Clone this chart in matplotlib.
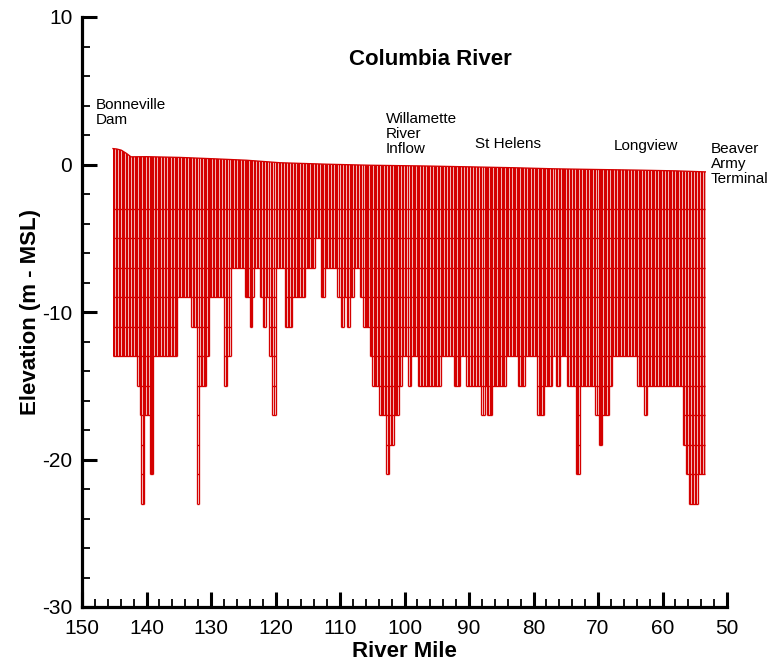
import numpy as np
import matplotlib
matplotlib.use("Agg")
import matplotlib.pyplot as plt
from matplotlib.collections import LineCollection
from matplotlib.patches import Polygon
from matplotlib.ticker import MultipleLocator

plt.rcParams['font.family'] = ['Liberation Sans', 'DejaVu Sans']
plt.rcParams['axes.unicode_minus'] = False

# ---------------- data ----------------
# River-mile boundaries of reaches with a constant channel bottom (m - MSL)
seg_edges = [145.2, 141.4, 141.05, 140.8, 140.4, 139.5, 138.95, 135.2, 133.05, 132.1,
             131.8, 130.7, 130.35, 128.0, 127.5, 126.95, 124.8, 124.0, 123.65, 123.4,
             122.45, 122.0, 121.5, 121.0, 120.5, 119.97, 118.57, 117.4, 115.4, 113.9,
             113.0, 112.4, 110.4, 109.9, 109.4, 108.9, 108.5, 107.9, 106.95, 106.4,
             105.4, 105.0, 103.95, 102.8, 102.4, 101.7, 100.9, 100.4, 99.46, 98.95,
             97.9, 94.4, 92.4, 91.35, 90.4, 88.1, 87.57, 87.2, 86.4, 84.3,
             82.4, 81.36, 79.4, 78.37, 77.1, 76.56, 75.84, 74.85, 73.46, 72.84,
             70.42, 69.89, 69.33, 68.29, 67.83, 63.9, 62.9, 62.36, 56.87, 56.4,
             55.9, 54.5, 53.36]
seg_bottom = [-13, -15, -17, -23, -17, -21, -13, -9, -11, -23,
              -15, -13, -9, -15, -13, -7, -9, -11, -9, -7,
              -9, -11, -9, -13, -17, -7, -11, -9, -7, -5,
              -9, -7, -9, -11, -9, -11, -9, -7, -9, -11,
              -13, -15, -17, -21, -19, -17, -15, -13, -15, -13,
              -15, -13, -15, -13, -15, -17, -15, -17, -15, -13,
              -15, -13, -17, -15, -13, -15, -13, -15, -21, -15,
              -17, -19, -17, -15, -13, -15, -17, -15, -19, -21,
              -23, -21]
# model layer interfaces (m - MSL)
layer_levels = [-3, -5, -7, -9, -11, -13, -15, -17, -19, -21, -23]
# water surface profile
surf_rm = [145.2, 144.6, 143.9, 143.1, 142.4, 140.0, 134.8, 129.7, 124.5, 119.3,
           112.0, 105.3, 97.0, 89.8, 83.0, 77.0, 70.0, 64.0, 58.0, 53.36]
surf_el = [1.08, 1.05, 0.97, 0.75, 0.52, 0.53, 0.48, 0.39, 0.29, 0.12,
           0.02, -0.05, -0.10, -0.16, -0.22, -0.29, -0.34, -0.38, -0.43, -0.50]

# place labels
place_names = ["Bonneville\nDam", "Willamette\nRiver\nInflow", "St Helens",
               "Longview", "Beaver\nArmy\nTerminal"]
place_rm = [147.9, 102.9, 89.1, 67.5, 52.55]
place_el = [4.5, 3.55, 1.85, 1.7, 1.5]

title = "Columbia River"
x_ticks = [150, 140, 130, 120, 110, 100, 90, 80, 70, 60, 50]
y_ticks = [-30, -20, -10, 0, 10]

# ---------------- grid construction ----------------
cell_target = 0.22   # nominal cell length (river miles)
col_l, col_r, col_b = [], [], []
for i, bot in enumerate(seg_bottom):
    a, b = seg_edges[i], seg_edges[i + 1]
    n = max(1, int(round((a - b) / cell_target)))
    e = np.linspace(a, b, n + 1)
    for k in range(n):
        col_l.append(e[k]); col_r.append(e[k + 1]); col_b.append(bot)

red = "#d40000"
lw = 0.95

fig = plt.figure(figsize=(7.69, 6.62), dpi=100)
ax = fig.add_axes([82 / 769, 1 - 607 / 662, (727 - 82) / 769, (607 - 17) / 662])

# vertical cell edges (clipped at the water surface)
vsegs = []
for k in range(len(col_l)):
    bot = col_b[k] if k == 0 else min(col_b[k], col_b[k - 1])
    vsegs.append([(col_l[k], bot), (col_l[k], 3)])
vsegs.append([(col_r[-1], col_b[-1]), (col_r[-1], 3)])
vlc = LineCollection(vsegs, colors=red, linewidths=lw)
ax.add_collection(vlc)
clip_poly = Polygon(list(zip(surf_rm, surf_el)) + [(surf_rm[-1], -40), (surf_rm[0], -40)],
                    closed=True, transform=ax.transData, facecolor="none", edgecolor="none")
ax.add_patch(clip_poly)
vlc.set_clip_path(clip_poly)

# horizontal layer lines
hsegs = []
for i, bot in enumerate(seg_bottom):
    a, b = seg_edges[i], seg_edges[i + 1]
    for L in layer_levels:
        if L >= bot:
            hsegs.append([(a, L), (b, L)])
ax.add_collection(LineCollection(hsegs, colors=red, linewidths=lw))

# water surface
ax.plot(surf_rm, surf_el, color=red, lw=lw)

# ---------------- axes styling ----------------
ax.set_xlim(150, 50)
ax.set_ylim(-30, 10)
ax.set_xticks(x_ticks)
ax.set_yticks(y_ticks)
ax.xaxis.set_minor_locator(MultipleLocator(2))
ax.yaxis.set_minor_locator(MultipleLocator(2))
for s in ["top", "right"]:
    ax.spines[s].set_visible(False)
for s in ["left", "bottom"]:
    ax.spines[s].set_linewidth(2.3)
ax.tick_params(which="major", direction="in", length=11, width=2.2, labelsize=15)
ax.tick_params(which="minor", direction="in", length=6, width=1.3)
ax.tick_params(axis="y", which="major", pad=7)
ax.tick_params(axis="x", which="major", pad=9)
ax.set_xlabel("River Mile", fontsize=16, fontweight="bold", labelpad=1.5)
ax.set_ylabel("Elevation (m - MSL)", fontsize=16, fontweight="bold", labelpad=1)

ax.text(96.0, 7.1, title, fontsize=16, fontweight="bold", ha="center", va="center")
for name, xr, ye in zip(place_names, place_rm, place_el):
    ax.text(xr, ye, name, fontsize=11, ha="left", va="top", linespacing=1.08,
            clip_on=False)

fig.savefig("out.png", dpi=100)
